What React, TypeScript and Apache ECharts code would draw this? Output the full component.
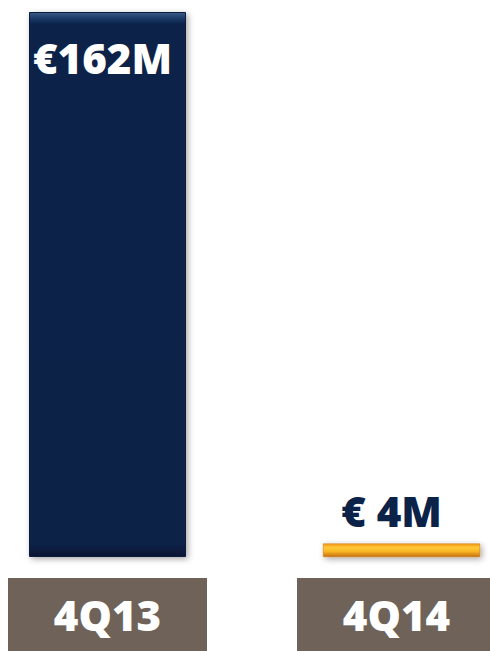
import React, { useEffect, useRef } from "react";
import * as echarts from "echarts";

const categories = ["4Q13", "4Q14"];
const values = [162, 4];
const valueLabels = ["€162M", "€ 4M"];

const FONT = "'Open Sans', 'Liberation Sans', sans-serif";

export default function App() {
  const ref = useRef<HTMLDivElement>(null);
  useEffect(() => {
    document.body.style.margin = "0";
    const chart = echarts.init(ref.current!, null, { renderer: "svg" });
    const navy = new echarts.graphic.LinearGradient(0, 0, 0, 1, [
      { offset: 0, color: "#3a5a88" },
      { offset: 0.012, color: "#1a3763" },
      { offset: 0.022, color: "#0b2249" },
      { offset: 0.98, color: "#0a2046" },
      { offset: 1, color: "#061634" },
    ]);
    const orange = new echarts.graphic.LinearGradient(0, 0, 0, 1, [
      { offset: 0, color: "#f39a1c" },
      { offset: 0.3, color: "#ffc935" },
      { offset: 0.6, color: "#f8b424" },
      { offset: 1, color: "#c56f0d" },
    ]);
    const itemStyles = [
      { color: navy, borderColor: "#081a3b", borderWidth: 1 },
      { color: orange, borderColor: "#c9770f", borderWidth: 0.5 },
    ];
    const labelStyles = [
      { position: "insideTop", distance: 24, color: "#ffffff", offset: [-5, 0] },
      { position: "top", distance: 12, color: "#0b2249", offset: [-10, 0] },
    ];
    const tickLabelStyles = [
      { width: 199 },
      { width: 199, padding: [0, 10, 0, 0] },
    ];
    chart.setOption({
      animation: false,
      grid: {
        left: 107.5,
        right: 88.5,
        top: 12,
        bottom: 94,
        containLabel: false,
        outerBoundsMode: "none",
      },
      xAxis: {
        type: "category",
        data: categories.map((c, i) => ({ value: c, textStyle: tickLabelStyles[i] })),
        boundaryGap: false,
        axisLine: { show: false },
        axisTick: { show: false },
        splitLine: { show: false },
        axisLabel: {
          interval: 0,
          margin: 21,
          verticalAlign: "top",
          align: "center",
          backgroundColor: "#6e6259",
          width: 199,
          height: 76,
          lineHeight: 73,
          color: "#ffffff",
          fontFamily: FONT,
          fontWeight: 800,
          fontSize: 42,
        },
      },
      yAxis: {
        type: "value",
        min: 0,
        max: 162,
        show: false,
        splitLine: { show: false },
      },
      series: [
        {
          type: "bar",
          barWidth: 157,
          clip: false,
          data: values.map((v, i) => ({
            value: v,
            itemStyle: {
              ...itemStyles[i],
              shadowBlur: 6,
              shadowColor: "rgba(0,0,0,0.35)",
              shadowOffsetX: 2,
              shadowOffsetY: 2,
            },
            label: {
              show: true,
              formatter: valueLabels[i],
              fontFamily: FONT,
              fontWeight: 800,
              fontSize: 42,
              lineHeight: 42,
              ...labelStyles[i],
            },
          })),
        },
      ],
    });
    return () => chart.dispose();
  }, []);
  return (
    <div
      ref={ref}
      style={{ position: "absolute", left: 0, top: 0, width: 490, height: 651 }}
    />
  );
}
